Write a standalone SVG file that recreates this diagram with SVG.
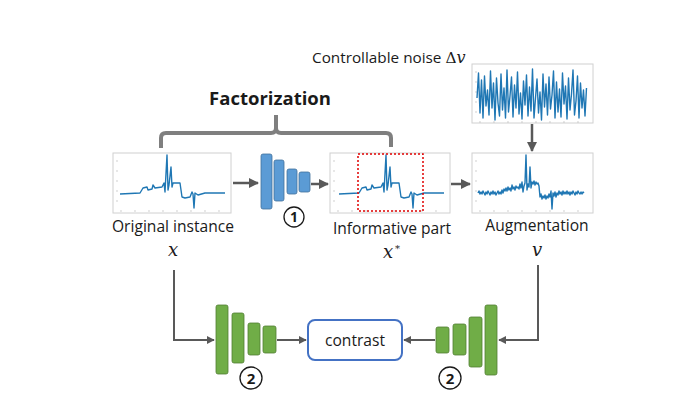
<svg xmlns="http://www.w3.org/2000/svg" xmlns:xlink="http://www.w3.org/1999/xlink" width="677" height="402" viewBox="0 0 677 402">
<style>
.lbl{font-family:"Open Sans","Liberation Sans",sans-serif;font-size:15.6px;fill:#1a1a1a}
.math{font-family:"DejaVu Serif","Liberation Serif",serif;font-style:italic;font-size:18px;fill:#1a1a1a}
.frame{fill:#fff;stroke:#d0d0d0;stroke-width:1}
.sig{fill:none;stroke:#1f77b4;stroke-width:1.4;stroke-linejoin:round}
.enc1{fill:#5b9bd5;stroke:#41719c;stroke-width:0.8}
.enc2{fill:#70ad47;stroke:#507e32;stroke-width:0.8}
.arr{fill:none;stroke:#595959;stroke-width:2.5}
.arr2{fill:none;stroke:#595959;stroke-width:2}
.num{fill:#fff;stroke:#1a1a1a;stroke-width:1.3}
.numt{font-family:"Open Sans","Liberation Sans",sans-serif;font-size:14px;font-weight:bold;fill:#1a1a1a;text-anchor:middle}
.tick{stroke:#bbb;stroke-width:0.7}
</style>
<defs>
<marker id="ah" viewBox="0 0 10 10" refX="9" refY="5" markerWidth="4" markerHeight="4" orient="auto" markerUnits="strokeWidth">
<path d="M0,0 L10,5 L0,10 z" fill="#595959"/>
</marker>
<marker id="ah2" viewBox="0 0 10 10" refX="9" refY="5" markerWidth="4" markerHeight="4" orient="auto" markerUnits="strokeWidth">
<path d="M0,0 L10,5 L0,10 z" fill="#595959"/>
</marker>
<g id="ticks">
<path class="tick" d="M3,8 h2 M3,18 h2 M3,28 h2 M3,38 h2 M3,48 h2 M8,57 v2 M22,57 v2 M36,57 v2 M50,57 v2 M64,57 v2 M78,57 v2 M92,57 v2 M106,57 v2"/>
</g>
<polyline id="ecg" class="sig" points="7,41 27,40 30,35 34,34 35,37 39,36 40,32 42,35 49,34 51,30 52,39 54,2 55,37 56,32 58,14 59,34 60,30 67,30 69,44 72,45 77,44 79,39 80,41 81,55 82,40 85,42 92,40 112,40"/>
</defs>

<g id="plot-original">
<rect class="frame" x="113" y="153" width="118" height="60"/>
<use xlink:href="#ticks" x="113" y="153"/>
<use xlink:href="#ecg" x="113" y="153"/>
</g>

<g id="plot-informative">
<rect class="frame" x="330" y="153" width="120" height="60"/>
<use xlink:href="#ticks" x="330" y="153"/>
<use xlink:href="#ecg" x="332" y="153"/>
<rect x="358" y="154" width="65" height="57" fill="none" stroke="#e00000" stroke-width="1.5" stroke-dasharray="2,2"/>
</g>

<g id="plot-augmentation">
<rect class="frame" x="472" y="153" width="121" height="60"/>
<use xlink:href="#ticks" x="472" y="153"/>
<polyline class="sig" transform="translate(472,153)" points="6,40 7,38 8,41 9,39 10,41 11,38 12,40 13,42 14,39 15,41 16,38 17,40 18,42 19,39 20,41 21,38 22,41 23,39 24,42 25,40 26,38 27,41 28,39 29,41 30,37 31,40 32,36 33,38 34,35 35,38 36,34 37,37 38,35 39,38 40,32 41,36 42,34 43,37 44,33 45,35 46,34 47,36 48,31 49,35 50,29 51,39 52,33 53,30 54,2 55,37 56,31 57,34 58,14 59,35 60,29 61,31 62,28 63,32 64,29 65,31 66,30 67,33 68,44 69,41 70,46 71,43 72,45 73,42 74,46 75,43 76,45 77,41 78,44 79,38 80,56 81,40 82,43 83,39 84,44 85,40 86,42 87,38 88,41 89,39 90,42 91,38 92,41 93,39 94,41 95,38 96,41 97,39 98,42 99,39 100,41 101,38 102,40 103,42 104,39 105,41 106,38 107,40 108,41 109,39 110,41 111,39 112,40"/>
</g>

<g id="plot-noise">
<rect class="frame" x="472" y="64" width="121" height="59"/>
<use xlink:href="#ticks" x="472" y="64"/>
<polyline class="sig" vector-effect="non-scaling-stroke" transform="translate(477,68) scale(1.5,1)" points="0,30 1,5 2,45 3,12 4,50 5,8 6,38 7,22 8,47 9,3 10,40 11,15 12,52 13,10 14,35 15,48 16,6 17,42 18,20 19,50 20,2 21,44 22,28 23,9 24,49 25,17 26,40 27,4 28,46 29,25 30,51 31,13 32,37 33,7 34,48 35,19 36,43 37,1 38,50 39,30 40,11 41,45 42,24 43,52 44,6 45,39 46,16 47,47 48,9 49,41 50,27 51,3 52,50 53,14 54,44 55,21 56,49 57,5 58,36 59,18 60,51 61,10 62,42 63,26 64,2 65,47 66,33 67,8 68,50 69,15 70,40 71,22 72,48 73,20"/>
</g>

<g id="encoder-1">
<rect class="enc1" x="261" y="154" width="11" height="55" rx="2"/>
<rect class="enc1" x="274" y="160" width="10" height="41" rx="2"/>
<rect class="enc1" x="287" y="169" width="10" height="25" rx="2"/>
<rect class="enc1" x="299" y="172" width="11" height="20" rx="2"/>
<circle class="num" cx="294" cy="217" r="10"/>
<text class="numt" x="294" y="222">1</text>
</g>

<g id="encoder-2-left">
<rect class="enc2" x="216" y="305" width="12" height="69" rx="2"/>
<rect class="enc2" x="232" y="313" width="12" height="50" rx="2"/>
<rect class="enc2" x="248" y="323" width="12" height="32" rx="2"/>
<rect class="enc2" x="263" y="326" width="13" height="27" rx="2"/>
<circle class="num" cx="251" cy="378" r="11"/>
<text class="numt" x="251" y="383.5" style="font-size:15px">2</text>
</g>

<g id="encoder-2-right">
<rect class="enc2" x="436" y="327" width="13" height="26" rx="2"/>
<rect class="enc2" x="453" y="324" width="13" height="31" rx="2"/>
<rect class="enc2" x="469" y="317" width="13" height="50" rx="2"/>
<rect class="enc2" x="485" y="305" width="12" height="70" rx="2"/>
<circle class="num" cx="450" cy="378" r="11"/>
<text class="numt" x="450" y="383.5" style="font-size:15px">2</text>
</g>

<g id="contrast">
<rect x="308" y="320" width="94" height="40" rx="7" fill="#fff" stroke="#4472c4" stroke-width="2"/>
<text class="lbl" x="355" y="346" text-anchor="middle">contrast</text>
</g>

<g id="labels">
<text x="270" y="105" text-anchor="middle" font-family="'Open Sans','Liberation Sans',sans-serif" font-weight="bold" font-size="18.5" fill="#1a1a1a">Factorization</text>
<text class="lbl" x="312" y="63" style="font-size:15.3px">Controllable noise <tspan font-family="'DejaVu Serif',serif">Δ</tspan><tspan class="math" style="font-size:16px">v</tspan></text>
<text class="lbl" x="173" y="232" text-anchor="middle">Original instance</text>
<text class="math" x="173" y="256" text-anchor="middle">x</text>
<text class="lbl" x="392" y="234" text-anchor="middle">Informative part</text>
<text class="math" x="388" y="258" text-anchor="middle">x</text>
<text class="math" x="395" y="252" style="font-size:10px;font-style:normal">*</text>
<text class="lbl" x="537" y="231" text-anchor="middle">Augmentation</text>
<text class="math" x="537" y="256" text-anchor="middle">v</text>
</g>

<g id="connectors">
<path d="M161,148 V138 Q161,133 166,133 H271 Q276,133 276,128 V115 M276,115 V128 Q276,133 281,133 H386 Q391,133 391,138 V147" fill="none" stroke="#7f7f7f" stroke-width="4" stroke-linejoin="round"/>
<path class="arr" d="M233,183 H258" marker-end="url(#ah)"/>
<path class="arr" d="M311,184 H328" marker-end="url(#ah)"/>
<path class="arr" d="M451,184 H470" marker-end="url(#ah)"/>
<path class="arr" d="M532,124 V151" marker-end="url(#ah)"/>
<path class="arr2" d="M174,270 V340 H214" marker-end="url(#ah2)"/>
<path class="arr2" d="M277,340 H306" marker-end="url(#ah2)"/>
<path class="arr2" d="M435,340 H404" marker-end="url(#ah2)"/>
<path class="arr2" d="M538,265 V340 H499" marker-end="url(#ah2)"/>
</g>
</svg>
